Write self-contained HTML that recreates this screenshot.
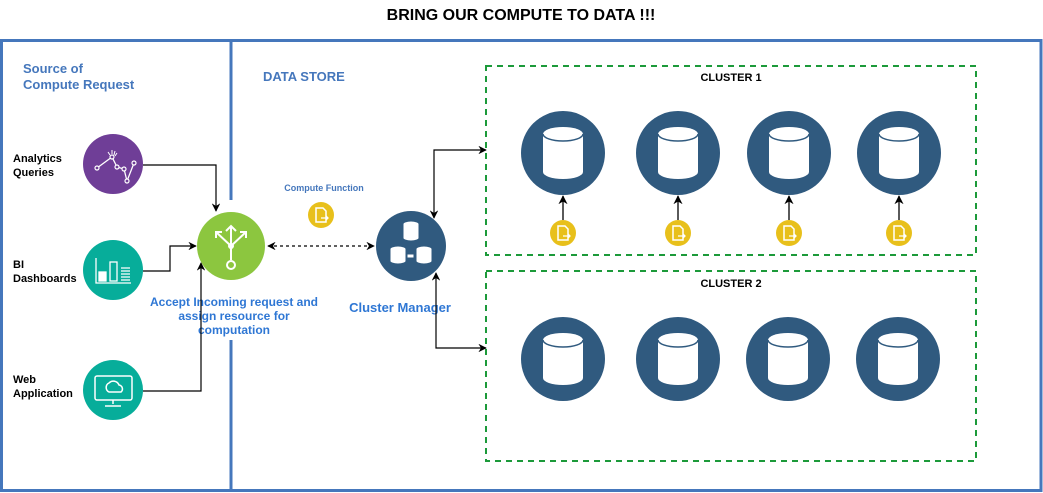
<!DOCTYPE html>
<html><head><meta charset="utf-8"><style>
html,body{margin:0;padding:0;background:#fff;}
svg{display:block;font-family:"Liberation Sans",Arial,sans-serif;}
</style></head><body>
<svg width="1043" height="493" viewBox="0 0 1043 493" xmlns="http://www.w3.org/2000/svg">
<defs>
<marker id="a" viewBox="0 0 10 10" refX="9" refY="5" markerWidth="7" markerHeight="7" orient="auto-start-reverse"><path d="M0,0 L10,5 L0,10 L3,5 z" fill="#000"/></marker>
<g id="db">
<circle r="42" fill="#305A7F"/>
<path d="M-20,-19 L-20,19 A20,7 0 0 0 20,19 L20,-19 A20,7 0 0 0 -20,-19 z" fill="#fff"/>
<path d="M-20,-19 A20,7 0 0 0 20,-19" fill="none" stroke="#305A7F" stroke-width="1.5"/>
</g>
<g id="fn">
<circle r="13" fill="#E8C01B"/>
<path d="M-5,-7 L2,-7 L5,-4 L5,7 L-5,7 z" fill="none" stroke="#fff" stroke-width="1.5"/>
<path d="M0,3 L7,3 M5,1 L7,3 L5,5" fill="none" stroke="#fff" stroke-width="1.3"/>
</g>
</defs>
<text x="521" y="20" text-anchor="middle" font-size="16" font-weight="bold">BRING OUR COMPUTE TO DATA !!!</text>
<rect x="1.5" y="40.5" width="1039.5" height="450" fill="none" stroke="#4577BC" stroke-width="3"/>
<line x1="231" y1="40" x2="231" y2="200" stroke="#4577BC" stroke-width="3"/>
<line x1="231" y1="340" x2="231" y2="491" stroke="#4577BC" stroke-width="3"/>
<text x="23" y="73" font-size="13" font-weight="bold" fill="#4577BC">Source of</text>
<text x="23" y="89" font-size="13" font-weight="bold" fill="#4577BC">Compute Request</text>
<text x="263" y="81" font-size="13" font-weight="bold" fill="#4577BC">DATA STORE</text>
<rect x="486" y="66" width="490" height="189" fill="none" stroke="#1C9A3A" stroke-width="2" stroke-dasharray="6,5"/>
<rect x="486" y="271" width="490" height="190" fill="none" stroke="#1C9A3A" stroke-width="2" stroke-dasharray="6,5"/>
<text x="731" y="81" text-anchor="middle" font-size="11" font-weight="bold">CLUSTER 1</text>
<text x="731" y="287" text-anchor="middle" font-size="11" font-weight="bold">CLUSTER 2</text>
<g>
<use href="#db" x="563" y="153"/><use href="#db" x="678" y="153"/><use href="#db" x="789" y="153"/><use href="#db" x="899" y="153"/>
<use href="#db" x="563" y="359"/><use href="#db" x="678" y="359"/><use href="#db" x="788" y="359"/><use href="#db" x="898" y="359"/>
</g>
<g stroke="#000" stroke-width="1.3" fill="none">
<line x1="563" y1="220" x2="563" y2="196" marker-end="url(#a)"/>
<line x1="678" y1="220" x2="678" y2="196" marker-end="url(#a)"/>
<line x1="789" y1="220" x2="789" y2="196" marker-end="url(#a)"/>
<line x1="899" y1="220" x2="899" y2="196" marker-end="url(#a)"/>
</g>
<use href="#fn" x="563" y="233"/><use href="#fn" x="678" y="233"/><use href="#fn" x="789" y="233"/><use href="#fn" x="899" y="233"/>
<use href="#fn" x="321" y="215"/>
<text x="324" y="191" text-anchor="middle" font-size="9" font-weight="bold" fill="#4577BC">Compute Function</text>
<!-- sources -->
<text font-size="11" font-weight="bold"><tspan x="13" y="162">Analytics</tspan><tspan x="13" y="176">Queries</tspan></text>
<text font-size="11" font-weight="bold"><tspan x="13" y="268">BI</tspan><tspan x="13" y="282">Dashboards</tspan></text>
<text font-size="11" font-weight="bold"><tspan x="13" y="383">Web</tspan><tspan x="13" y="397">Application</tspan></text>
<circle cx="113" cy="164" r="30" fill="#6F3E97"/>
<path d="M97,168 L112,157 L117,167 L124,169 L127,181 L134,163" fill="none" stroke="#fff" stroke-width="1.3"/>
<g fill="#6F3E97" stroke="#fff" stroke-width="1.2"><circle cx="97" cy="168" r="2"/><circle cx="112" cy="157" r="2"/><circle cx="117" cy="167" r="2"/><circle cx="124" cy="169" r="2"/><circle cx="127" cy="181" r="2"/><circle cx="134" cy="163" r="2"/></g>
<path d="M108,152 L110,155 M112,150 L112,154 M115,151 L114,155 M117,153 L115,156" stroke="#fff" stroke-width="1"/>
<circle cx="113" cy="270" r="30" fill="#07AD9A"/>
<g fill="none" stroke="#fff" stroke-width="1.3"><path d="M96,258 L96,283 L131,283"/><rect x="99" y="272" width="7" height="9" fill="#fff"/><rect x="110" y="262" width="7" height="19"/><path d="M121,268h9M121,271h9M121,274h9M121,277h9M121,280h9"/></g>
<circle cx="113" cy="390" r="30" fill="#07AD9A"/>
<g fill="none" stroke="#fff" stroke-width="1.5"><rect x="95" y="376" width="37" height="24" rx="2"/><path d="M109,392 a5,5 0 0 1 0,-9 a6,6 0 0 1 10,2 a4,4 0 0 1 2,7 z"/><path d="M113,400 v4 M105,406 h16"/></g>
<!-- green router -->
<circle cx="231" cy="246" r="34" fill="#8CC63F"/>
<g fill="none" stroke="#fff" stroke-width="2"><path d="M231,226 L231,260 M231,246 L216,232 M231,246 L246,232 M226,231 L231,226 L236,231 M216,238 L216,232 L222,232 M246,238 L246,232 L240,232"/><circle cx="231" cy="265" r="4"/></g>
<circle cx="231" cy="246" r="3" fill="#fff"/>
<text font-size="12" font-weight="bold" fill="#2F77D4" text-anchor="middle"><tspan x="234" y="306">Accept Incoming request and</tspan><tspan x="234" y="320">assign resource for</tspan><tspan x="234" y="334">computation</tspan></text>
<!-- cluster manager -->
<circle cx="411" cy="246" r="35" fill="#305A7F"/>
<g fill="#fff" stroke="#305A7F" stroke-width="1"><path d="M403,224 v14 a8,3 0 0 0 16,0 v-14 a8,3 0 0 0 -16,0z"/><path d="M390,249 v12 a8,3 0 0 0 16,0 v-12 a8,3 0 0 0 -16,0z"/><path d="M416,249 v12 a8,3 0 0 0 16,0 v-12 a8,3 0 0 0 -16,0z"/><rect x="407" y="254" width="7" height="4"/></g>
<text x="400" y="312" text-anchor="middle" font-size="13" font-weight="bold" fill="#2F77D4">Cluster Manager</text>
<!-- connectors -->
<g stroke="#000" stroke-width="1.2" fill="none">
<path d="M143,165 L216,165 L216,211" marker-end="url(#a)"/>
<path d="M143,271 L170,271 L170,246 L196,246" marker-end="url(#a)"/>
<path d="M143,391 L201,391 L201,263" marker-end="url(#a)"/>
<path d="M268,246 L374,246" stroke-dasharray="3,3" marker-start="url(#a)" marker-end="url(#a)"/>
<path d="M434,218 L434,150 L486,150" marker-start="url(#a)" marker-end="url(#a)"/>
<path d="M436,273 L436,348 L486,348" marker-start="url(#a)" marker-end="url(#a)"/>
</g>
</svg>
</body></html>
